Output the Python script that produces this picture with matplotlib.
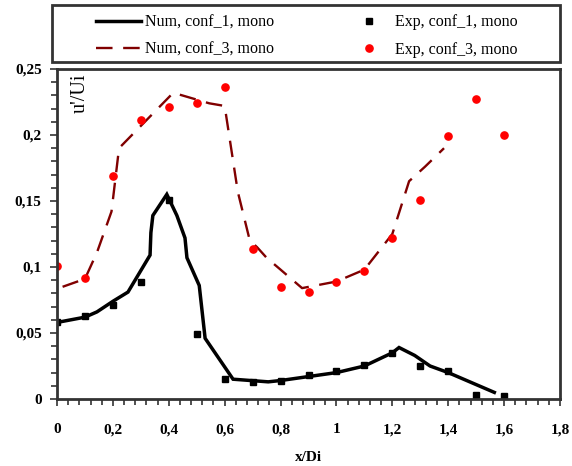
import matplotlib
matplotlib.use("Agg")
import matplotlib.pyplot as plt
from matplotlib.ticker import MultipleLocator, FuncFormatter
from matplotlib.patches import Rectangle

# Experimental data
x_exp = [0, 0.1, 0.2, 0.3, 0.4, 0.5, 0.6, 0.7, 0.8, 0.9, 1.0, 1.1, 1.2, 1.3, 1.4, 1.5, 1.6]
exp_conf1 = [0.058, 0.063, 0.071, 0.089, 0.151, 0.049, 0.015, 0.013, 0.014, 0.018,
             0.021, 0.026, 0.035, 0.025, 0.021, 0.003, 0.002]
exp_conf3 = [0.101, 0.092, 0.169, 0.211, 0.221, 0.224, 0.236, 0.114, 0.085, 0.081,
             0.089, 0.097, 0.122, 0.151, 0.199, 0.227, 0.200]

# Numerical curves
x_num1 = [0, 0.1, 0.143, 0.2, 0.254, 0.333, 0.336, 0.343, 0.393, 0.429, 0.458, 0.465,
          0.509, 0.53, 0.63, 0.756, 0.8, 0.9, 1.0, 1.1, 1.2, 1.224, 1.28, 1.335, 1.4, 1.565]
num_conf1 = [0.058, 0.062, 0.066, 0.074, 0.081, 0.109, 0.126, 0.139, 0.155, 0.139, 0.122, 0.107,
             0.086, 0.046, 0.015, 0.013, 0.014, 0.017, 0.020, 0.025, 0.035, 0.039, 0.033, 0.025,
             0.020, 0.005]

x_num3 = [0.02, 0.1, 0.143, 0.195, 0.222, 0.416, 0.545, 0.60, 0.647, 0.69, 0.716, 0.75,
          0.80, 0.877, 1.0, 1.1, 1.2, 1.26, 1.317, 1.385]
num_conf3 = [0.085, 0.091, 0.111, 0.142, 0.19, 0.232, 0.224, 0.222, 0.157, 0.12, 0.115, 0.107,
             0.098, 0.084, 0.089, 0.098, 0.125, 0.165, 0.176, 0.19]

xticks = [0, 0.2, 0.4, 0.6, 0.8, 1.0, 1.2, 1.4, 1.6, 1.8]
yticks = [0, 0.05, 0.1, 0.15, 0.2, 0.25]
labels = ['Num, conf_1, mono', 'Num, conf_3, mono',
          'Exp, conf_1, mono', 'Exp, conf_3, mono']

plt.rcParams['font.family'] = ['Liberation Serif', 'DejaVu Serif']

W, H = 572, 466
fig = plt.figure(figsize=(W / 100, H / 100), dpi=100)
ax = fig.add_axes([57 / W, 1 - 399 / H, (560 - 57) / W, (399 - 69) / H])

l1, = ax.plot(x_num1, num_conf1, color='black', lw=2.5, solid_joinstyle='miter')
l3, = ax.plot(x_num3, num_conf3, color='#800000', lw=1.7, dashes=(7, 4.5))
s1, = ax.plot(x_exp, exp_conf1, ls='none', marker='s', ms=5, color='black')
s3, = ax.plot(x_exp, exp_conf3, ls='none', marker='o', ms=5.2, color='#ff0000')

ax.set_xlim(0, 1.8)
ax.set_ylim(0, 0.25)
ax.set_xticks(xticks)
ax.set_yticks(yticks)
ax.xaxis.set_minor_locator(MultipleLocator(0.04))
ax.yaxis.set_minor_locator(MultipleLocator(0.01))

def fmt(v, pos):
    s = ('%.2f' % v).rstrip('0').rstrip('.')
    return s.replace('.', ',')

ax.xaxis.set_major_formatter(FuncFormatter(fmt))
ax.yaxis.set_major_formatter(FuncFormatter(fmt))

ax.tick_params(which='both', direction='out', color='#333333', width=1.2)
ax.tick_params(which='major', length=5, labelsize=11)
ax.tick_params(which='minor', length=4)
ax.tick_params(axis='x', which='major', pad=12.5)
ax.tick_params(axis='y', which='major', pad=6)
for lab in ax.get_xticklabels() + ax.get_yticklabels():
    lab.set_fontweight('bold')

for sp in ax.spines.values():
    sp.set_color('#333333')
    sp.set_linewidth(2)

ax.text(0.046, 0.985, "u'/Ui", rotation=90, va='top', ha='center',
        transform=ax.transAxes, fontsize=14.5)
ax.set_xlabel('x/Di', fontsize=11, fontweight='bold', labelpad=10.5)

# legend frame
fig.patches.append(Rectangle((52 / W, 1 - 62 / H), (560 - 52) / W, (62 - 5) / H,
                             transform=fig.transFigure, fill=False,
                             edgecolor='#333333', linewidth=2))

leg = fig.legend(handles=[l1, l3, s1, s3], labels=labels,
                 loc='center', bbox_to_anchor=(96 / W, 1 - 62 / H, (518 - 96) / W, 52 / H),
                 mode='expand', ncol=2, fontsize=11.5, frameon=False,
                 handlelength=2.8, handletextpad=0.25, borderaxespad=0, borderpad=0,
                 labelspacing=0.72)

fig.savefig('out.png', dpi=100)
